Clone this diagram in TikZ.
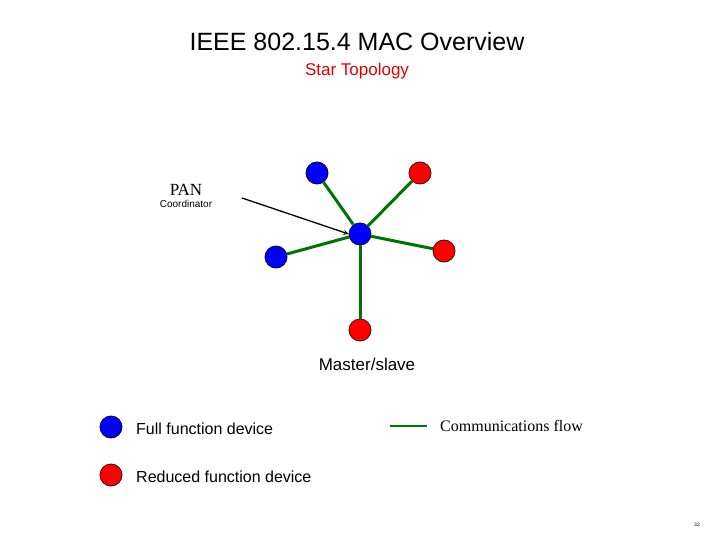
\documentclass[tikz,border=0pt]{standalone}
\usepackage{fontspec}
\setmainfont{Liberation Sans}
\newfontfamily\serif{Liberation Serif}
\begin{document}
\begin{tikzpicture}[x=1pt,y=-1pt,
  fd/.style={circle,draw=black!70!blue,fill=blue,minimum size=22pt,inner sep=0pt,line width=0.8pt},
  rd/.style={circle,draw=black!70!red,fill=red,minimum size=22pt,inner sep=0pt,line width=0.8pt},
  link/.style={draw=green!45!black,line width=3pt},
  txt/.style={inner sep=0pt}]
\useasboundingbox (0,0) rectangle (720,540);
\node[txt] (title) at (357,42) {\fontsize{25}{30}\selectfont IEEE 802.15.4 MAC Overview};
\node[txt,text=red!90!black] (sub) at (357,71) {\fontsize{17}{20}\selectfont Star Topology};
\node[txt,align=center] (pan) at (186,196) {\serif\fontsize{17}{20}\selectfont PAN\\Coordinator};
\coordinate (panr) at (242,198);
\node[fd] (c) at (360,234) {};
\node[fd] (tl) at (317,173) {};
\node[rd] (tr) at (420,173) {};
\node[fd] (l) at (276,257) {};
\node[rd] (r) at (444,251) {};
\node[rd] (b) at (360,330) {};
\draw[link] (c) -- (tl); \draw[link] (c) -- (tr); \draw[link] (c) -- (l);
\draw[link] (c) -- (r); \draw[link] (c) -- (b);
\draw[line width=1.3pt,-stealth] (panr) -- (c.west);
\node[txt] (ms) at (367,364) {\fontsize{17}{20}\selectfont Master/slave};
\node[fd] (lf) at (111,427) {};
\node[txt,anchor=west] (lft) at (136,429) {\fontsize{16}{19}\selectfont Full function device};
\node[rd] (lr) at (111,475) {};
\node[txt,anchor=west] (lrt) at (136,477) {\fontsize{16}{19}\selectfont Reduced function device};
\coordinate (g1) at (390,426); \coordinate (g2) at (427,426);
\draw[draw=green!45!black,line width=2pt] (g1) -- (g2);
\node[txt,anchor=west] (cf) at (440,426) {\serif\fontsize{16}{19}\selectfont Communications flow};
\node[txt] (pg) at (697,525) {\tiny 32};
\end{tikzpicture}
\end{document}
